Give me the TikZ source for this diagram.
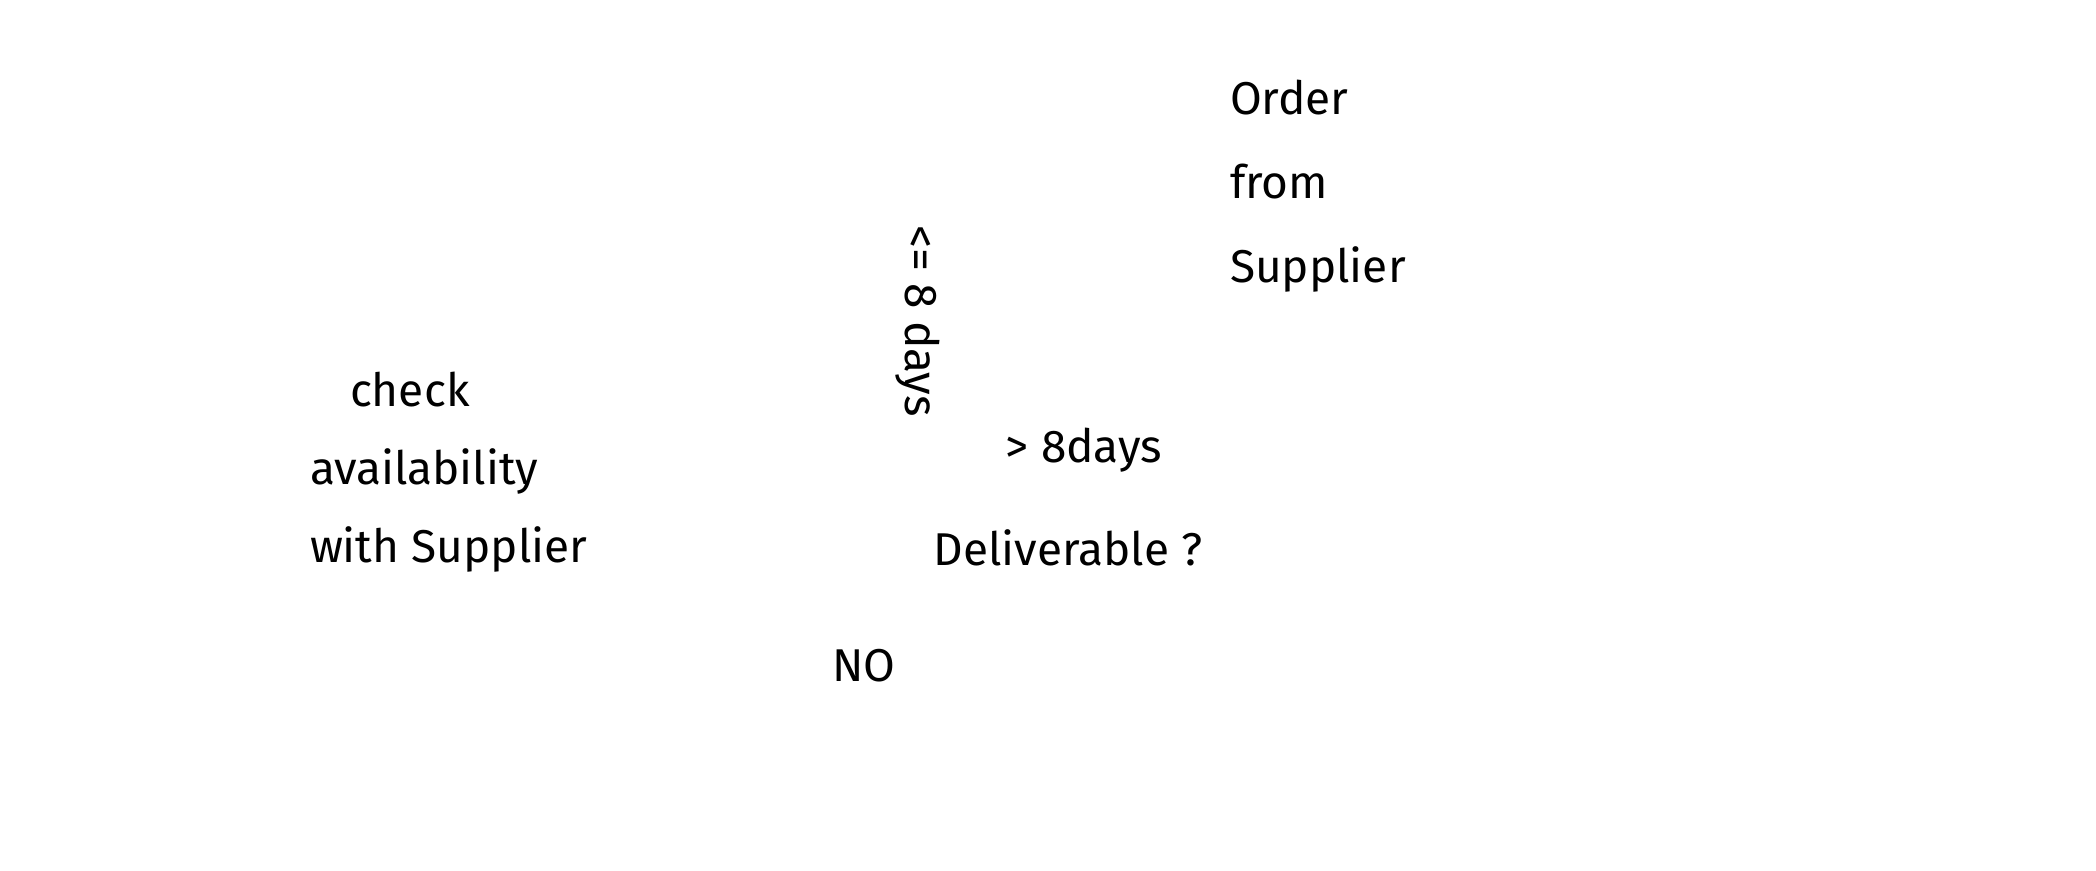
\documentclass[tikz,border=0pt]{standalone}
\usepackage{fontspec}
\setmainfont{Fira Sans}
\begin{document}
\begin{tikzpicture}[x=0.5pt,y=-0.5pt,
  hand/.style={inner sep=0pt, outer sep=0pt, font=\fontsize{23}{39}\selectfont, text=black},
  block/.style={hand, align=left}]
\useasboundingbox[fill=white] (0,0) rectangle (2096,871);
\node[block, anchor=north west, font=\fontsize{23}{42}\selectfont] (order) at (1230,80) {Order\\from\\Supplier};
\node[block, anchor=north west] (check) at (310,372) {\hspace*{20pt}check\\availability\\with Supplier};
\node[hand, rotate=-90] (le8) at (918,321) {<= 8 days};
\node[hand] (gt8) at (1084,450) {> 8days};
\node[hand] (deliverable) at (1068,548) {Deliverable ?};
\node[hand] (no) at (864,666) {NO};
\end{tikzpicture}
\end{document}
